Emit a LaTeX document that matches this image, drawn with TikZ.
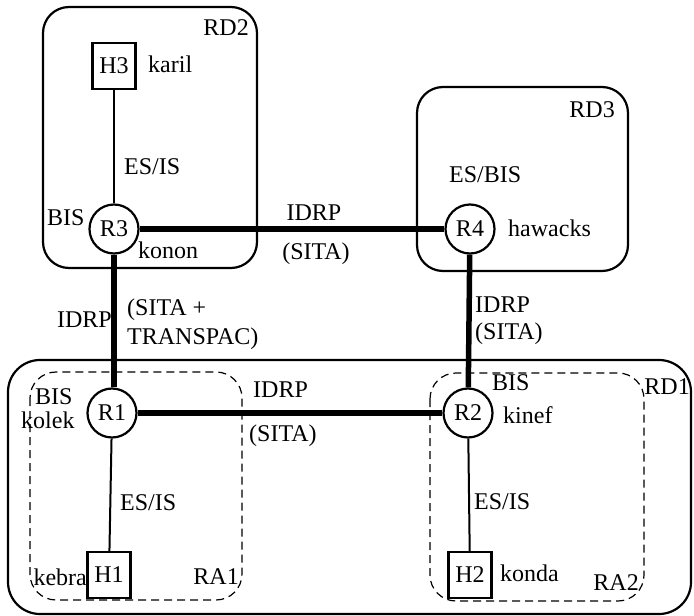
\documentclass[tikz,border=0pt]{standalone}
\usepackage{fontspec}
\setmainfont{Liberation Serif}
\begin{document}
\begin{tikzpicture}[x=1pt,y=-1pt,
  lbl/.style={inner sep=0pt,font=\fontsize{24}{26}\selectfont},
  router/.style={circle,draw,line width=2.2pt,minimum size=49pt,inner sep=0pt,font=\fontsize{24}{26}\selectfont},
  host/.style={rectangle,draw,line width=2.2pt,minimum width=43pt,minimum height=46pt,inner sep=0pt,font=\fontsize{24}{26}\selectfont},
  rdbox/.style={draw,line width=2.2pt,rounded corners=26pt},
  rabox/.style={draw,line width=1.2pt,dash pattern=on 8pt off 5pt,rounded corners=26pt},
  thinline/.style={line width=2pt},
  thickline/.style={line width=5.5pt}]
\useasboundingbox (0,0) rectangle (694,616);
% domains
\draw[rdbox] (43,7) rectangle (257,268);
\draw[rdbox] (417,87) rectangle (628,271);
\draw[rdbox,rounded corners=32pt] (8,360) rectangle (691,614);
\draw[rabox] (30,372) rectangle (242,600);
\draw[rabox] (430,373) rectangle (644,601);
% nodes
\node[host] (H3) at (114,66) {H3};
\node[router] (R3) at (114,229) {R3};
\node[router] (R4) at (470,229) {R4};
\node[router] (R1) at (112,413) {R1};
\node[router] (R2) at (468,413) {R2};
\node[host] (H1) at (109,575) {H1};
\node[host] (H2) at (470,575) {H2};
% connectors
\draw[thinline] (H3) -- (R3);
\draw[thinline] (R1) -- (H1);
\draw[thinline] (R2) -- (H2);
\draw[thickline] (R3) -- (R4);
\draw[thickline] (R3.south) -- (R3.south |- R1.north);
\draw[thickline] (R1) -- (R2);
\draw[thickline] (R4) -- (R2);
% labels
\node[lbl,anchor=east] (lRD2) at (249,28) {RD2};
\node[lbl,anchor=west] (lkaril) at (148,64) {karil};
\node[lbl,anchor=west] (les1) at (124,167) {ES/IS};
\node[lbl,anchor=west] (lbis3) at (47,218) {BIS};
\node[lbl,anchor=west] (lkonon) at (138,250) {konon};
\node[lbl,anchor=east] (lRD3) at (615,110) {RD3};
\node[lbl,anchor=west] (lesbis) at (449,175) {ES/BIS};
\node[lbl,anchor=west] (lhaw) at (508,228) {hawacks};
\node[lbl] (lidrp1) at (314,213) {IDRP};
\node[lbl] (lsita1) at (316,254) {(SITA)};
\node[lbl,anchor=east] (lidrp2) at (112,320) {IDRP};
\node[lbl,anchor=west] (lsita2) at (127,310) {(SITA +};
\node[lbl,anchor=west] (ltrans) at (127,339) {TRANSPAC)};
\node[lbl,anchor=west] (lidrp3) at (475,305) {IDRP};
\node[lbl,anchor=west] (lsita3) at (475,334) {(SITA)};
\node[lbl,anchor=east] (lRD1) at (690,387) {RD1};
\node[lbl,anchor=west] (lbis1) at (35,397) {BIS};
\node[lbl,anchor=west] (lkolek) at (21,420) {kolek};
\node[lbl,anchor=west] (lidrp4) at (253,390) {IDRP};
\node[lbl,anchor=west] (lsita4) at (249,436) {(SITA)};
\node[lbl,anchor=west] (les2) at (120,503) {ES/IS};
\node[lbl,anchor=east] (lkebra) at (87,577) {kebra};
\node[lbl,anchor=east] (lRA1) at (239,577) {RA1};
\node[lbl,anchor=west] (lbis2) at (492,383) {BIS};
\node[lbl,anchor=west] (lkinef) at (503,415) {kinef};
\node[lbl,anchor=west] (les3) at (474,502) {ES/IS};
\node[lbl,anchor=west] (lkonda) at (500,573) {konda};
\node[lbl,anchor=east] (lRA2) at (639,583) {RA2};
\end{tikzpicture}
\end{document}
